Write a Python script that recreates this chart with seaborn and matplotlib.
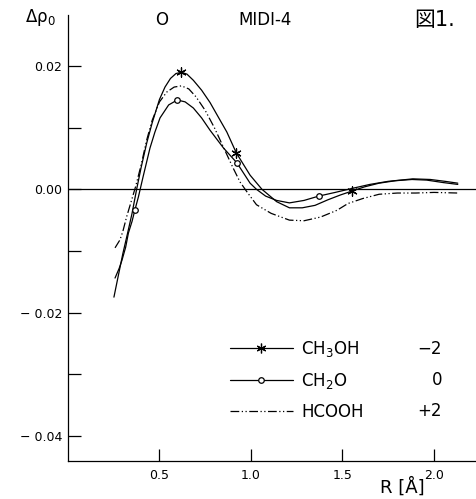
import numpy as np
import pandas as pd
import matplotlib
matplotlib.use("Agg")
import matplotlib.pyplot as plt
import seaborn as sns
from matplotlib.lines import Line2D

# ---- data ----
r_ch3oh = [0.251, 0.275, 0.30, 0.325, 0.35, 0.375, 0.40, 0.43, 0.46, 0.50, 0.53, 0.56,
           0.59, 0.62, 0.65, 0.685, 0.73, 0.776, 0.82, 0.868, 0.92, 0.995, 1.06, 1.14,
           1.21, 1.28, 1.35, 1.42, 1.49, 1.55, 1.62, 1.70, 1.79, 1.88, 1.96, 2.05, 2.13]
v_ch3oh = [-0.0175, -0.0140, -0.0104, -0.0072, -0.0039, 0.0000, 0.0036, 0.0075, 0.0108,
           0.0146, 0.0166, 0.0180, 0.0188, 0.0190, 0.0187, 0.0177, 0.0161, 0.0141, 0.0118,
           0.0093, 0.0059, 0.0023, 0.0000, -0.0020, -0.0030, -0.0030, -0.0026, -0.0017,
           -0.0009, -0.0003, 0.0004, 0.0010, 0.0014, 0.0016, 0.0015, 0.0011, 0.0008]
mark_ch3oh = [13, 20, 29]

r_ch2o = [0.257, 0.28, 0.295, 0.315, 0.33, 0.35, 0.366, 0.385, 0.41, 0.448, 0.475, 0.503,
          0.55, 0.597, 0.64, 0.685, 0.73, 0.776, 0.85, 0.923, 0.995, 1.03, 1.08, 1.14,
          1.21, 1.29, 1.37, 1.46, 1.56, 1.65, 1.75, 1.885, 1.98, 2.06, 2.13]
v_ch2o = [-0.0144, -0.0128, -0.0115, -0.0094, -0.0071, -0.0052, -0.0033, -0.0012, 0.0020,
          0.0067, 0.0093, 0.0116, 0.0137, 0.0145, 0.0142, 0.0132, 0.0116, 0.0096, 0.0067,
          0.0043, 0.0010, 0.0000, -0.0011, -0.0018, -0.0022, -0.0018, -0.0011, -0.0005,
          0.0002, 0.0008, 0.0013, 0.0017, 0.0016, 0.0013, 0.0010]
mark_ch2o = [6, 13, 19, 26]

r_hcooh = [0.257, 0.284, 0.30, 0.32, 0.345, 0.37, 0.40, 0.43, 0.46, 0.50, 0.54, 0.58,
           0.62, 0.66, 0.70, 0.75, 0.80, 0.85, 0.90, 0.94, 0.98, 1.03, 1.11, 1.21, 1.29,
           1.38, 1.47, 1.53, 1.61, 1.70, 1.80, 1.90, 2.00, 2.13]
v_hcooh = [-0.0095, -0.0082, -0.0068, -0.0045, -0.0020, 0.0005, 0.0040, 0.0080, 0.0112,
           0.0142, 0.0158, 0.0166, 0.0168, 0.0163, 0.0150, 0.0128, 0.0100, 0.0068, 0.0036,
           0.0012, -0.0005, -0.0025, -0.0039, -0.0050, -0.0051, -0.0045, -0.0034, -0.0023,
           -0.0015, -0.0008, -0.0006, -0.0006, -0.0005, -0.0006]

labels = ["CH$_3$OH", "CH$_2$O", "HCOOH"]
charges = ["\u22122", "0", "+2"]
xticks = [0.5, 1.0, 1.5, 2.0]
xticklabels = ["0.5", "1.0", "1.5", "2.0"]
yticks = [0.02, 0.00, -0.02, -0.04]
yticklabels = ["0.02", "0.00", "\u2212 0.02", "\u2212 0.04"]
yminor = [0.01, -0.01, -0.03]

# ---- figure ----
sns.set_style("ticks")
plt.rcParams["font.family"] = ["DejaVu Sans", "Noto Sans CJK JP"]
plt.rcParams["text.color"] = "black"
plt.rcParams["axes.labelcolor"] = "black"
plt.rcParams["xtick.color"] = "black"
plt.rcParams["ytick.color"] = "black"

W, H = 477, 499
fig = plt.figure(figsize=(W / 100, H / 100), dpi=100)
ax = fig.add_axes([68 / W, 1 - 461 / H, 409 / W, 446 / H])

lw = 0.9
dashdotdot = (0, (7, 2, 1, 2, 1, 2))
sns.lineplot(x=r_ch3oh, y=v_ch3oh, ax=ax, color="black", lw=lw)
sns.lineplot(x=r_ch2o, y=v_ch2o, ax=ax, color="black", lw=lw)
sns.lineplot(x=r_hcooh, y=v_hcooh, ax=ax, color="black", lw=lw, linestyle=dashdotdot)

star = (6, 2, 0)
sns.scatterplot(x=[r_ch3oh[i] for i in mark_ch3oh], y=[v_ch3oh[i] for i in mark_ch3oh],
                ax=ax, marker=star, s=45, color="black", linewidth=0.9, zorder=5)
sns.scatterplot(x=[r_ch2o[i] for i in mark_ch2o], y=[v_ch2o[i] for i in mark_ch2o],
                ax=ax, marker="o", s=16, facecolor="white", edgecolor="black",
                linewidth=0.9, zorder=5)

ax.axhline(0, color="black", lw=0.9, zorder=1)

ax.set_xlim(0, 2.235)
ax.set_ylim(-0.0441, 0.0283)
sns.despine(ax=ax, top=True, right=True)
for s in ["left", "bottom"]:
    ax.spines[s].set_linewidth(0.9)
    ax.spines[s].set_color("black")

ax.set_xticks(xticks)
ax.set_xticklabels(xticklabels, fontsize=9)
ax.set_yticks(yticks)
ax.set_yticklabels(yticklabels, fontsize=9)
ax.set_yticks(yminor, minor=True)
ax.tick_params(axis="both", which="both", direction="in", length=9, width=0.9,
               color="black", labelcolor="black")
ax.tick_params(axis="y", pad=4)
ax.tick_params(axis="x", pad=6)
ax.set_xlabel("")
ax.set_ylabel("")

# legend
handles = [
    Line2D([], [], color="black", lw=lw, marker=star, markersize=7, markeredgewidth=0.9),
    Line2D([], [], color="black", lw=lw, marker="o", markersize=4,
           markerfacecolor="white", markeredgewidth=0.9),
    Line2D([], [], color="black", lw=lw, linestyle=dashdotdot),
]
leg = ax.legend(handles, labels, loc="center left", bbox_to_anchor=(0.395, 0.181),
                frameon=False, fontsize=12, handlelength=3.8, handletextpad=0.5,
                labelspacing=0.72, borderaxespad=0, borderpad=0)
for t in leg.get_texts():
    t.set_color("black")
ys = [0.251, 0.181, 0.112]
for c, y in zip(charges, ys):
    ax.text(0.915, y, c, transform=ax.transAxes, ha="right", va="center", fontsize=12,
            color="black")

# texts
fig.text(25 / W, 1 - 17 / H, "\u0394\u03c1$_0$", fontsize=12, ha="left", va="center")
fig.text(162 / W, 1 - 20 / H, "O", fontsize=12, ha="center", va="center")
fig.text(265 / W, 1 - 20 / H, "MIDI-4", fontsize=12, ha="center", va="center")
fig.text(435 / W, 1 - 20 / H, "\u56f31.", fontsize=15, ha="center", va="center")
fig.text(402 / W, 1 - 487 / H, "R [\u00c5]", fontsize=13, ha="center", va="center")

fig.savefig("out.png", dpi=100, facecolor="white")
